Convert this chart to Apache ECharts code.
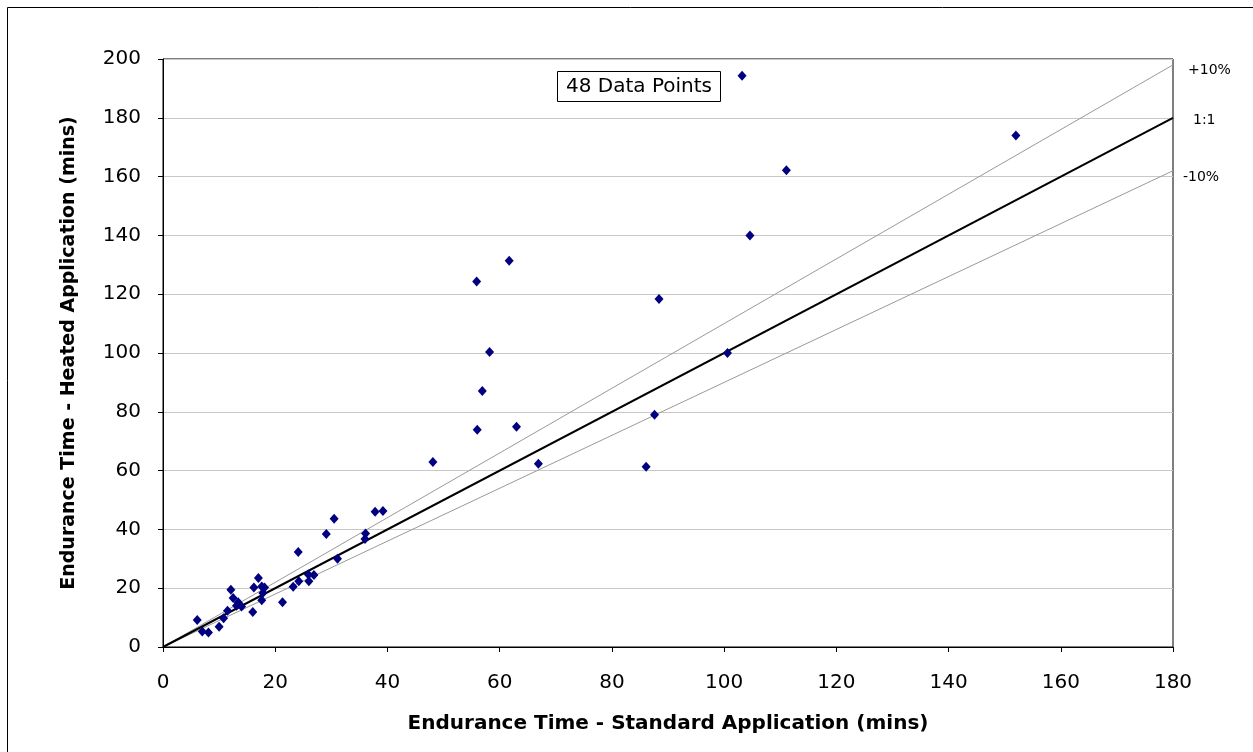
<!DOCTYPE html>
<html>
<head>
<meta charset="utf-8">
<script src="https://cdn.jsdelivr.net/npm/echarts@6/dist/echarts.min.js"></script>
<style>
  html, body { margin: 0; padding: 0; background: #fff; }
  #chart { width: 1253px; height: 752px; }
</style>
</head>
<body>
<div id="chart"></div>
<script>
// Endurance times (mins)
var standardTimes = [6.1, 7.0, 8.1, 10.0, 10.8, 11.5, 12.1, 12.5, 13.1, 13.4,
  14.0, 16.0, 16.2, 17.0, 17.6, 18.1, 17.8, 17.6, 21.3, 23.2,
  24.2, 25.9, 26.0, 26.9, 24.1, 31.1, 29.1, 30.5, 36.1, 36.0,
  37.8, 39.2, 48.1, 56.0, 63.0, 66.9, 56.9, 58.2, 55.9, 61.7,
  88.4, 87.6, 86.1, 100.6, 104.6, 111.1, 103.2, 152.0];
var heatedTimes = [9.2, 5.3, 4.9, 6.9, 9.8, 12.3, 19.5, 16.7, 14.0, 15.2,
  13.8, 11.9, 20.2, 23.5, 20.6, 20.2, 18.4, 15.9, 15.2, 20.5,
  22.4, 24.7, 22.4, 24.5, 32.3, 30.0, 38.4, 43.6, 38.6, 36.7,
  46.0, 46.3, 62.9, 73.9, 74.9, 62.3, 87.1, 100.3, 124.3, 131.4,
  118.4, 79.0, 61.3, 100.0, 140.0, 162.2, 194.3, 174.0];

// reference lines: 1:1 and +/-10%
var oneToOneLine = [[0, 0], [180, 180]];
var plusTenLine = [[0, 0], [180, 198]];
var minusTenLine = [[0, 0], [180, 162]];

var xTitle = 'Endurance Time - Standard Application (mins)';
var yTitle = 'Endurance Time - Heated Application (mins)';

var FONT = '"DejaVu Sans", Verdana, sans-serif';

var points = [];
for (var i = 0; i < standardTimes.length; i++) {
  points.push([standardTimes[i], heatedTimes[i]]);
}

var chart = echarts.init(document.getElementById('chart'));

chart.setOption({
  animation: false,
  backgroundColor: '#fff',
  grid: {
    left: 163,
    top: 59,
    right: 80,
    bottom: 105,
    show: true,
    borderColor: '#000',
    borderWidth: 1
  },
  xAxis: {
    type: 'value',
    min: 0,
    max: 180,
    interval: 20,
    name: xTitle,
    nameLocation: 'middle',
    nameGap: 67,
    nameMoveOverlap: false,
    nameTextStyle: {fontFamily: FONT, fontSize: 20, fontWeight: 'bold', color: '#000'},
    axisLine: {lineStyle: {color: '#000', width: 1}},
    axisTick: {show: true, inside: false, length: 5, lineStyle: {color: '#000'}},
    axisLabel: {fontFamily: FONT, fontSize: 20, color: '#000', margin: 26},
    splitLine: {show: false}
  },
  yAxis: {
    type: 'value',
    min: 0,
    max: 200,
    interval: 20,
    name: yTitle,
    nameLocation: 'middle',
    nameGap: 84,
    nameMoveOverlap: false,
    nameTextStyle: {fontFamily: FONT, fontSize: 19, fontWeight: 'bold', color: '#000'},
    axisLine: {show: true, lineStyle: {color: '#000', width: 1}},
    axisTick: {show: true, inside: false, length: 5, lineStyle: {color: '#000'}},
    axisLabel: {fontFamily: FONT, fontSize: 20, color: '#000', margin: 22},
    splitLine: {show: true, lineStyle: {color: '#c8c8c8', width: 1}}
  },
  series: [
    {
      name: '+10%',
      type: 'line',
      data: plusTenLine,
      symbol: 'none',
      lineStyle: {color: '#999', width: 1},
      z: 2,
      endLabel: {
        show: true,
        formatter: '+10%',
        fontFamily: FONT,
        fontSize: 14,
        color: '#000',
        offset: [7, 5]
      }
    },
    {
      name: '-10%',
      type: 'line',
      data: minusTenLine,
      symbol: 'none',
      lineStyle: {color: '#999', width: 1},
      z: 2,
      endLabel: {
        show: true,
        formatter: '-10%',
        fontFamily: FONT,
        fontSize: 14,
        color: '#000',
        offset: [2, 7]
      }
    },
    {
      name: '1:1',
      type: 'line',
      data: oneToOneLine,
      symbol: 'none',
      lineStyle: {color: '#000', width: 2},
      z: 3,
      endLabel: {
        show: true,
        formatter: '1:1',
        fontFamily: FONT,
        fontSize: 14,
        color: '#000',
        offset: [12, 3]
      }
    },
    {
      name: 'Data',
      type: 'scatter',
      data: points,
      symbol: 'diamond',
      symbolSize: [9, 10],
      itemStyle: {color: '#000080', opacity: 1},
      z: 4
    }
  ],
  graphic: [
    {
      type: 'rect',
      shape: {x: 7.5, y: 7.5, width: 1270, height: 770},
      style: {fill: 'none', stroke: '#000', lineWidth: 1},
      silent: true,
      z: 0
    },
    {
      type: 'rect',
      shape: {x: 557.5, y: 71.5, width: 163, height: 30},
      style: {fill: '#fff', stroke: '#000', lineWidth: 1},
      z: 10
    },
    {
      type: 'text',
      x: 639,
      y: 87,
      style: {
        text: '48 Data Points',
        fontFamily: FONT,
        fontSize: 20,
        fill: '#000',
        textAlign: 'center',
        textVerticalAlign: 'middle'
      },
      z: 11
    }
  ]
});
</script>
</body>
</html>
